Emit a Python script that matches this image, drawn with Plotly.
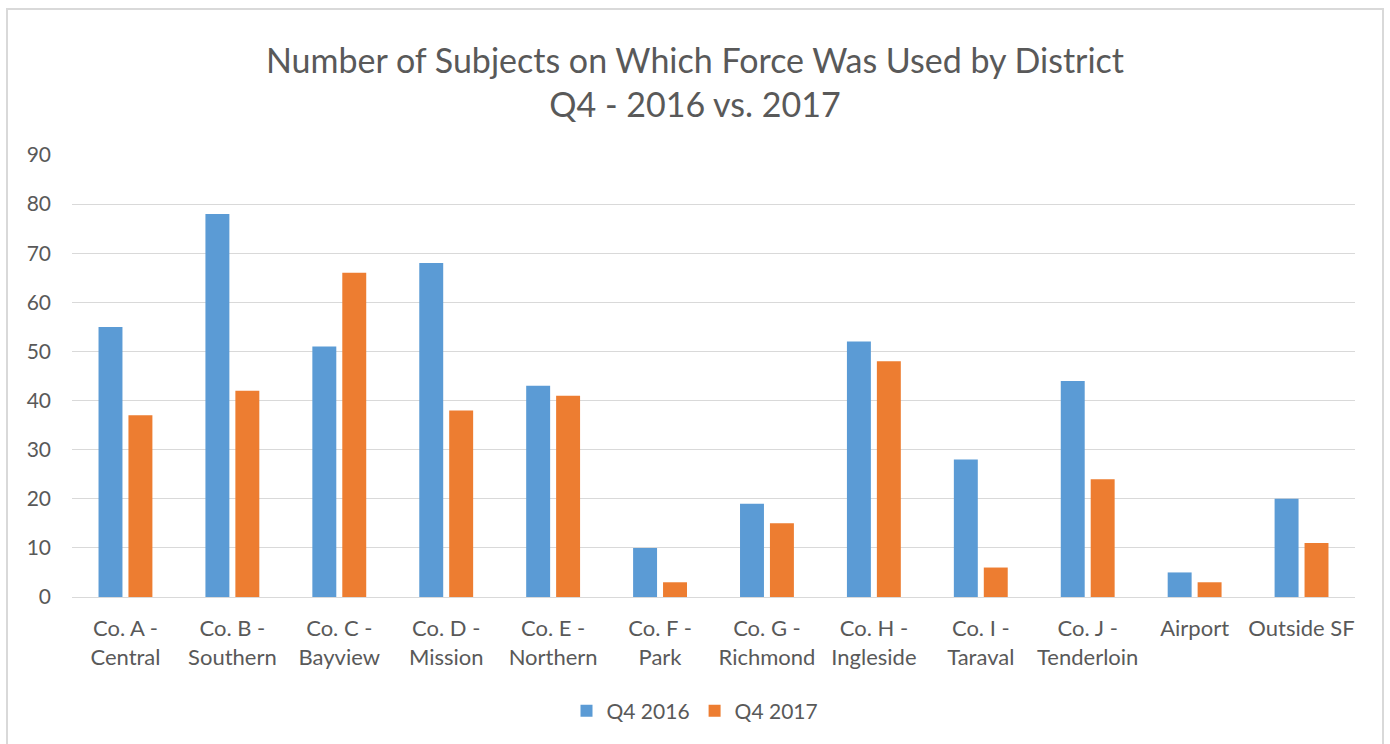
import plotly.graph_objects as go

districts = [
    "Co. A -<br>Central", "Co. B -<br>Southern", "Co. C -<br>Bayview",
    "Co. D -<br>Mission", "Co. E -<br>Northern", "Co. F -<br>Park",
    "Co. G -<br>Richmond", "Co. H -<br>Ingleside", "Co. I -<br>Taraval",
    "Co. J -<br>Tenderloin", "Airport", "Outside SF",
]
q4_2016 = [55, 78, 51, 68, 43, 10, 19, 52, 28, 44, 5, 20]
q4_2017 = [37, 42, 66, 38, 41, 3, 15, 48, 6, 24, 3, 11]
y_ticks = [0, 10, 20, 30, 40, 50, 60, 70, 80, 90]

FONT = "Lato"
TEXT = "#595959"
W, H = 1390, 744
L, R, T, B = 72, 35, 155, 147

fig = go.Figure()
fig.add_trace(go.Bar(x=districts, y=q4_2016, name="Q4 2016",
                     marker=dict(color="#5B9BD5", line=dict(width=0))))
fig.add_trace(go.Bar(x=districts, y=q4_2017, name="Q4 2017",
                     marker=dict(color="#ED7D31", line=dict(width=0))))

# outer chart frame, placed in pixel terms relative to the plot area
pw, ph = W - L - R, H - T - B
def px_x(p):
    return (p - L) / pw
def px_y(p):
    return (H - B - p) / ph

fig.add_shape(type="rect", xref="paper", yref="paper",
              x0=px_x(7), x1=px_x(1383), y0=px_y(760), y1=px_y(9),
              line=dict(color="#D9D9D9", width=2), fillcolor="rgba(0,0,0,0)",
              layer="below")

fig.update_layout(
    width=W, height=H,
    margin=dict(l=L, r=R, t=T, b=B),
    paper_bgcolor="white", plot_bgcolor="white",
    barmode="group", bargap=0.44, bargroupgap=0.2,
    font=dict(family=FONT, color=TEXT, size=21),
    title=dict(
        text="Number of Subjects on Which Force Was Used by District<br>Q4 - 2016 vs. 2017",
        x=0.5, xanchor="center", xref="container",
        y=1 - 73 / H, yanchor="middle", yref="container",
        font=dict(family=FONT, size=34, color=TEXT),
    ),
    xaxis=dict(
        showgrid=False, showline=True, linecolor="#D9D9D9", linewidth=1,
        ticks="", tickfont=dict(size=22, color=TEXT), ticklabelstandoff=12,
    ),
    yaxis=dict(
        range=[0, 90], tickvals=y_ticks, showgrid=True, gridcolor="#D9D9D9",
        gridwidth=1, zeroline=False, showline=False, ticks="",
        tickfont=dict(size=21, color=TEXT), ticklabelstandoff=20,
    ),
    legend=dict(
        orientation="h", x=0.5, xanchor="center", xref="container",
        y=1 - 711 / H, yanchor="middle", yref="container",
        font=dict(size=21, color=TEXT), itemwidth=30,
    ),
)

fig.write_html("out.html")
